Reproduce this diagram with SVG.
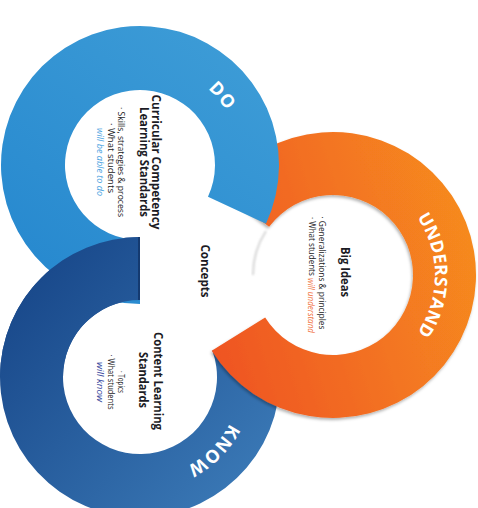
<svg xmlns="http://www.w3.org/2000/svg" width="478" height="508" viewBox="0 0 478 508">
<defs>
<style>
.t{font-family:"Open Sans","Liberation Sans",sans-serif;fill:#1b1b24;text-anchor:middle;dominant-baseline:central}
.h{font-size:12.5px;font-weight:700}
.s{font-size:8.5px}
.lbl{font-family:"Open Sans","Liberation Sans",sans-serif;font-weight:700;font-size:18px;fill:#fff}
</style>
<linearGradient id="gBlue" gradientUnits="userSpaceOnUse" x1="200" y1="30" x2="20" y2="260">
<stop offset="0" stop-color="#3c9bd6"/><stop offset="1" stop-color="#2789cf"/>
</linearGradient>
<linearGradient id="gOrange" gradientUnits="userSpaceOnUse" x1="200" y1="300" x2="470" y2="220">
<stop offset="0" stop-color="#ef5522"/><stop offset="1" stop-color="#f68a1f"/>
</linearGradient>
<linearGradient id="gNavy" gradientUnits="userSpaceOnUse" x1="30" y1="290" x2="260" y2="490">
<stop offset="0" stop-color="#1a4a8c"/><stop offset="1" stop-color="#3b7ab7"/>
</linearGradient>
<filter id="sh" x="-20%" y="-20%" width="140%" height="140%">
<feDropShadow dx="-1" dy="2" stdDeviation="1.5" flood-color="#000" flood-opacity="0.3"/>
</filter>
<filter id="blur"><feGaussianBlur stdDeviation="1.2"/></filter>
<path id="doArc" d="M122.11,63.56 A104,104 0 0 1 236.79,200.23"/>
<path id="undArc" d="M384,186.67 A102,102 0 0 1 384,363.33"/>
<path id="knowArc" d="M237.56,350.86 A101,101 0 0 1 113.86,474.56"/>
</defs>
<rect width="478" height="508" fill="#ffffff"/>

<g id="know">
<path d="M271.56,329.12 A140,140 0 1 1 140,237 L140,300 A77,77 0 1 0 212.36,350.66 Z" fill="url(#gNavy)"/>
<text class="lbl" letter-spacing="1"><textPath href="#knowArc" startOffset="50%" text-anchor="middle">KNOW</textPath></text>
<text class="t h" transform="translate(158,381) rotate(90)" textLength="98" lengthAdjust="spacingAndGlyphs">Content Learning</text>
<text class="t h" transform="translate(143,380) rotate(90)" textLength="56" lengthAdjust="spacingAndGlyphs">Standards</text>
<text class="t s" transform="translate(121,382) rotate(90)" textLength="22" lengthAdjust="spacingAndGlyphs">· Topics</text>
<text class="t s" transform="translate(111,382) rotate(90)" textLength="55" lengthAdjust="spacingAndGlyphs">· What students</text>
<text class="t s" transform="translate(100,382) rotate(90)" textLength="40" lengthAdjust="spacingAndGlyphs" style="fill:#3a4a9e;font-style:italic">will know</text>
</g>

<g id="understand">
<path d="M253,275 A80,80 0 0 1 266,231" fill="none" stroke="#d6d6d6" stroke-width="2" filter="url(#blur)"/>
<path d="M218.8,188.94 A143,143 0 1 1 211.73,350.78 L265.16,317.39 A80,80 0 1 0 269.11,226.86 Z" fill="url(#gOrange)" filter="url(#sh)"/>
<text class="lbl" letter-spacing="0.2" style="font-size:17.5px"><textPath href="#undArc" startOffset="50%" text-anchor="middle">UNDERSTAND</textPath></text>
<text class="t h" transform="translate(345,272) rotate(90)" textLength="50" lengthAdjust="spacingAndGlyphs">Big Ideas</text>
<text class="t s" transform="translate(322,273) rotate(90)" textLength="113" lengthAdjust="spacingAndGlyphs">· Generalizations &amp; principles</text>
<text class="t s" transform="translate(312,275) rotate(90)" textLength="116" lengthAdjust="spacingAndGlyphs">· What students <tspan style="fill:#f0703c;font-style:italic">will understand</tspan></text>
</g>

<g id="do">
<path d="M140,304 A139,139 0 1 1 265.98,223.74 L207.97,196.7 A75,75 0 1 0 140,240 Z" fill="url(#gBlue)"/>
<text class="lbl" letter-spacing="1"><textPath href="#doArc" startOffset="50%" text-anchor="middle">DO</textPath></text>
<text class="t h" transform="translate(156,162) rotate(90)" textLength="135" lengthAdjust="spacingAndGlyphs">Curricular Competency</text>
<text class="t h" transform="translate(144,162) rotate(90)" textLength="110" lengthAdjust="spacingAndGlyphs">Learning Standards</text>
<text class="t s" transform="translate(121,162) rotate(90)" textLength="110" lengthAdjust="spacingAndGlyphs">· Skills, strategies &amp; process</text>
<text class="t s" transform="translate(111,158) rotate(90)" textLength="70" lengthAdjust="spacingAndGlyphs">· What students</text>
<text class="t s" transform="translate(100,162) rotate(90)" textLength="68" lengthAdjust="spacingAndGlyphs" style="fill:#4aa3df;font-style:italic">will be able to do</text>
</g>

<g id="know-overlap">
<path d="M0,377 A140,140 0 0 1 140,237 L140,300 A77,77 0 0 0 63,377 Z" fill="url(#gNavy)"/>
<line x1="139" y1="237" x2="139" y2="300" stroke="#143a70" stroke-width="2"/>
</g>

<g id="concepts">
<text class="t h" transform="translate(205,271) rotate(90)" textLength="53" lengthAdjust="spacingAndGlyphs">Concepts</text>
</g>
</svg>
